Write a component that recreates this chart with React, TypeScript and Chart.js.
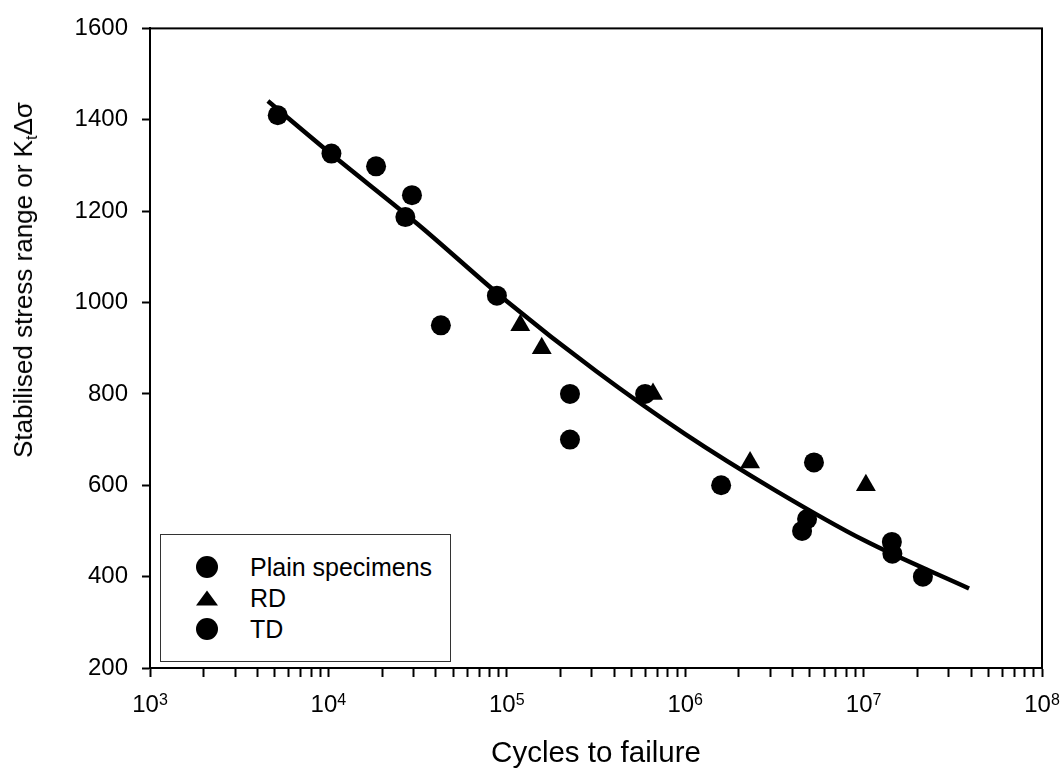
import React, { useEffect, useRef, useState } from 'react';
import { Chart, registerables } from 'chart.js';

Chart.register(...registerables);

const FONT = "'Liberation Sans', Arial, Helvetica, sans-serif";

// ---- data ----
const plainCycles = [5200, 10400, 18500, 29400, 27000, 88000, 4.82e6, 4.52e6, 1.44e7, 1.45e7, 2.15e7];
const plainStress = [1410, 1326, 1298, 1235, 1187, 1015, 526, 500, 476, 450, 400];

const rdCycles = [119000, 157000, 660000, 2.31e6, 1.03e7];
const rdStress = [950, 900, 800, 650, 600];

const tdCycles = [42700, 226000, 226000, 596000, 1.59e6, 5.27e6];
const tdStress = [950, 800, 700, 800, 600, 650];

const fitCycles = [4580, 1e4, 31600, 1e5, 316000, 1e6, 3.16e6, 1e7, 3.9e7];
const fitStress = [1441, 1330, 1172, 1003, 850, 712, 590, 480, 374];

const xMajorValues = [1e3, 1e4, 1e5, 1e6, 1e7, 1e8];
const xMajorBase = '10';
const xMajorExponents = ['3', '4', '5', '6', '7', '8'];
const xMinorMultipliers = [2, 3, 4, 5, 6, 7, 8, 9];

const yMin = 200;
const yMax = 1600;
const yStep = 200;

const legendLabels = ['Plain specimens', 'RD', 'TD'];

const pts = (xs: number[], ys: number[]) => xs.map((x, i) => ({ x, y: ys[i] }));

const framePlugin = {
  id: 'frame',
  afterDraw(chart: any) {
    const { ctx, chartArea } = chart;
    const { left, top, right, bottom } = chartArea;
    ctx.save();
    ctx.strokeStyle = '#000';
    ctx.lineWidth = 2;
    ctx.strokeRect(left, top, right - left, bottom - top);
    ctx.restore();
  },
};

export default function App() {
  const canvasRef = useRef<HTMLCanvasElement | null>(null);
  const [tickPos, setTickPos] = useState<{ x: number; y: number }[]>([]);

  useEffect(() => {
    if (!canvasRef.current) return;
    const chart = new Chart(canvasRef.current, {
      type: 'scatter',
      data: {
        datasets: [
          {
            label: 'Fit',
            data: pts(fitCycles, fitStress),
            showLine: true,
            borderColor: '#000',
            borderWidth: 4.5,
            pointRadius: 0,
            cubicInterpolationMode: 'monotone',
            order: 2,
          } as any,
          {
            label: legendLabels[0],
            data: pts(plainCycles, plainStress),
            pointStyle: 'circle',
            pointRadius: 10,
            backgroundColor: '#000',
            borderColor: '#000',
            borderWidth: 0,
            order: 1,
          },
          {
            label: legendLabels[1],
            data: pts(rdCycles, rdStress),
            pointStyle: 'triangle',
            pointRadius: 11.5,
            backgroundColor: '#000',
            borderColor: '#000',
            borderWidth: 0,
            order: 1,
          },
          {
            label: legendLabels[2],
            data: pts(tdCycles, tdStress),
            pointStyle: 'circle',
            pointRadius: 10,
            backgroundColor: '#000',
            borderColor: '#000',
            borderWidth: 0,
            order: 1,
          },
        ],
      },
      options: {
        responsive: false,
        animation: false,
        devicePixelRatio: 1,
        layout: { padding: { top: 24, right: 21, left: 0, bottom: 0 } },
        plugins: {
          legend: { display: false },
          tooltip: { enabled: false },
        },
        scales: {
          x: {
            type: 'logarithmic',
            position: 'bottom',
            min: 1e3,
            max: 1e8,
            border: { display: true, color: '#000', width: 2 },
            grid: {
              display: true,
              drawOnChartArea: false,
              drawTicks: true,
              tickLength: 9,
              tickWidth: 2,
              tickColor: '#000',
            },
            afterBuildTicks: (scale: any) => {
              const ticks: { value: number }[] = [];
              for (let e = 3; e < 8; e++) {
                const base = Math.pow(10, e);
                ticks.push({ value: base });
                xMinorMultipliers.forEach((m) => ticks.push({ value: m * base }));
              }
              ticks.push({ value: 1e8 });
              scale.ticks = ticks;
            },
            afterFit: (scale: any) => {
              scale.height = 104;
            },
            ticks: {
              autoSkip: false,
              maxRotation: 0,
              minRotation: 0,
              color: '#000',
              padding: 6,
              font: { family: FONT, size: 24 },
              // major labels with superscript exponents are laid out as HTML text below
              callback: () => '',
            },
            title: {
              display: true,
              text: 'Cycles to failure',
              color: '#000',
              font: { family: FONT, size: 29.5 },
              padding: { top: 0, bottom: 0 },
            },
          },
          y: {
            type: 'linear',
            min: yMin,
            max: yMax,
            border: { display: true, color: '#000', width: 2 },
            grid: {
              display: true,
              drawOnChartArea: false,
              drawTicks: true,
              tickLength: 8,
              tickWidth: 2,
              tickColor: '#000',
            },
            afterFit: (scale: any) => {
              scale.width = 150;
            },
            ticks: {
              stepSize: yStep,
              color: '#000',
              padding: 14,
              font: { family: FONT, size: 24 },
              callback: (value: any) => String(value),
            },
          },
        },
      } as any,
      plugins: [framePlugin],
    });
    const xs = chart.scales.x as any;
    setTickPos(xMajorValues.map((v) => ({ x: xs.getPixelForValue(v), y: chart.chartArea.bottom })));
    return () => chart.destroy();
  }, []);

  const rowY = [567, 598, 629];

  return (
    <div style={{ position: 'fixed', left: 0, top: 0, width: 1063, height: 772, background: '#fff', fontFamily: FONT }}>
      <canvas ref={canvasRef} width={1063} height={772} style={{ width: 1063, height: 772, display: 'block' }} />
      {tickPos.map((p, i) => (
        <div
          key={'xt' + i}
          style={{
            position: 'absolute',
            left: p.x,
            top: p.y + 24,
            transform: 'translateX(-50%)',
            fontSize: 24,
            lineHeight: '24px',
            whiteSpace: 'nowrap',
            color: '#000',
          }}
        >
          {xMajorBase}
          <span style={{ fontSize: 16, lineHeight: 0, position: 'relative', top: -7 }}>{xMajorExponents[i]}</span>
        </div>
      ))}
      <div
        style={{
          position: 'absolute',
          left: 23,
          top: 280,
          transform: 'translate(-50%, -50%) rotate(-90deg)',
          fontSize: 26,
          lineHeight: 1,
          whiteSpace: 'nowrap',
          color: '#000',
        }}
      >
        Stabilised stress range or K
        <span style={{ fontSize: 16, lineHeight: 0, verticalAlign: '-0.3em' }}>t</span>
        Δσ
      </div>
      <div
        style={{
          position: 'absolute',
          left: 160,
          top: 534,
          width: 291,
          height: 128,
          boxSizing: 'border-box',
          border: '1px solid #333',
          background: '#fff',
        }}
      />
      <svg style={{ position: 'absolute', left: 0, top: 0, pointerEvents: 'none' }} width={1063} height={772}>
        <circle cx={207} cy={rowY[0]} r={11} fill="#000" />
        <polygon points={`196,${rowY[1] + 7.5} 218,${rowY[1] + 7.5} 207,${rowY[1] - 7.5}`} fill="#000" />
        <circle cx={207} cy={rowY[2]} r={11} fill="#000" />
      </svg>
      {legendLabels.map((lab, i) => (
        <div
          key={lab}
          style={{
            position: 'absolute',
            left: 250,
            top: rowY[i] - 12,
            fontSize: 25,
            lineHeight: '24px',
            whiteSpace: 'nowrap',
            color: '#000',
          }}
        >
          {lab}
        </div>
      ))}
    </div>
  );
}
